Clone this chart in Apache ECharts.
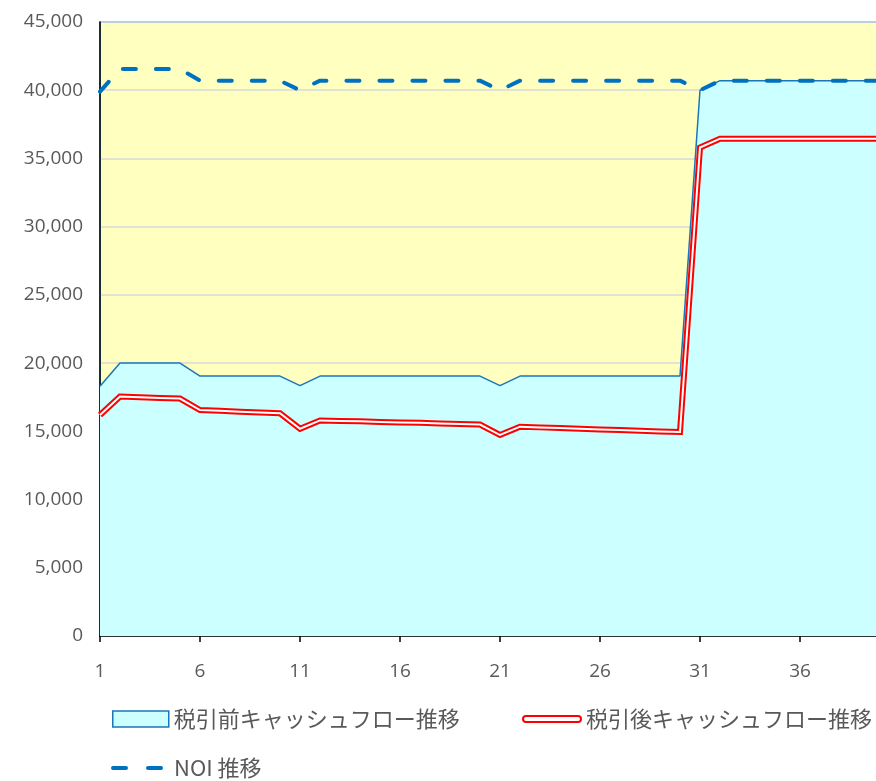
<!DOCTYPE html>
<html>
<head>
<meta charset="utf-8">
<script src="https://cdn.jsdelivr.net/npm/echarts@6/dist/echarts.min.js"></script>
<style>
  html, body { margin: 0; padding: 0; background: #fff; }
  #chart { width: 876px; height: 781px; }
</style>
</head>
<body>
<div id="chart"></div>
<script>
// Period numbers along the x axis
const periods = ['1','2','3','4','5','6','7','8','9','10',
  '11','12','13','14','15','16','17','18','19','20',
  '21','22','23','24','25','26','27','28','29','30',
  '31','32','33','34','35','36','37','38','39','40'];

// 税引前キャッシュフロー
const preTaxCF = [18300, 20000, 20000, 20000, 20000, 19050, 19050, 19050, 19050, 19050,
  18350, 19050, 19050, 19050, 19050, 19050, 19050, 19050, 19050, 19050,
  18350, 19050, 19050, 19050, 19050, 19050, 19050, 19050, 19050, 19050,
  40000, 40700, 40700, 40700, 40700, 40700, 40700, 40700, 40700, 40700];

// 税引後キャッシュフロー
const afterTaxCF = [16200, 17550, 17500, 17450, 17400, 16560, 16500, 16440, 16380, 16320,
  15190, 15800, 15760, 15730, 15690, 15650, 15620, 15580, 15540, 15500,
  14730, 15340, 15290, 15240, 15190, 15140, 15090, 15040, 14990, 14950,
  35800, 36450, 36450, 36450, 36450, 36450, 36450, 36450, 36450, 36450];

// NOI
const noi = [39900, 41550, 41550, 41550, 41550, 40700, 40700, 40700, 40700, 40700,
  40000, 40700, 40700, 40700, 40700, 40700, 40700, 40700, 40700, 40700,
  40000, 40700, 40700, 40700, 40700, 40700, 40700, 40700, 40700, 40700,
  40000, 40700, 40700, 40700, 40700, 40700, 40700, 40700, 40700, 40700];

const NAME_PRE = '税引前キャッシュフロー推移';
const NAME_POST = '税引後キャッシュフロー推移';
const NAME_NOI = 'NOI 推移';

const labelColor = '#595959';
const numFont = '"Open Sans", "Noto Sans", sans-serif';
const cjkFont = '"Noto Sans CJK JP", sans-serif';

const chart = echarts.init(document.getElementById('chart'), null, { renderer: 'canvas' });

const legendText = { color: labelColor, fontSize: 22, fontFamily: cjkFont };

chart.setOption({
  animation: false,
  backgroundColor: '#ffffff',
  grid: {
    // the plot runs slightly past the right edge of the canvas
    left: 100, top: 22, width: 780, height: 614,
    outerBoundsMode: 'none',
    containLabel: false,
    show: true,
    backgroundColor: '#FFFFC0',
    borderColor: '#2E9BD6',
    borderWidth: 1.5
  },
  legend: [
    {
      left: 107, top: 703, itemWidth: 56, itemHeight: 16,
      textStyle: legendText,
      data: [{ name: NAME_PRE, icon: 'rect',
        itemStyle: { color: '#CCFFFF', borderColor: '#1B75BB', borderWidth: 1.5 } }]
    },
    {
      left: 517, top: 703, itemWidth: 58, itemHeight: 16,
      textStyle: legendText,
      data: [{ name: NAME_POST,
        icon: 'path://M3,0 H55 A3,3 0 0 1 55,6 H3 A3,3 0 0 1 3,0 Z',
        itemStyle: { color: '#ffffff', borderColor: '#FF0000', borderWidth: 2 } }]
    },
    {
      left: 106, top: 752, itemWidth: 52, itemHeight: 16,
      textStyle: Object.assign({}, legendText, { padding: [0, 0, 0, 6] }),
      data: [{ name: NAME_NOI,
        icon: 'path://M2,0 H15 A2,2 0 0 1 15,4 H2 A2,2 0 0 1 2,0 Z M37,0 H50 A2,2 0 0 1 50,4 H37 A2,2 0 0 1 37,0 Z',
        itemStyle: { color: '#0070C0', borderWidth: 0 } }]
    }
  ],
  xAxis: {
    type: 'category',
    data: periods,
    boundaryGap: false,
    axisLine: { lineStyle: { color: '#000000', width: 1.5 } },
    axisTick: { show: true, interval: 4, length: 6, lineStyle: { color: '#000000', width: 1.5 } },
    axisLabel: { interval: 4, margin: 26, color: labelColor, fontSize: 19, fontFamily: numFont },
    splitLine: { show: false }
  },
  yAxis: {
    type: 'value',
    min: 0, max: 45000, interval: 5000,
    axisLine: { show: true, lineStyle: { color: '#000000', width: 1.5 } },
    axisTick: { show: false },
    axisLabel: {
      margin: 17, color: labelColor, fontSize: 19, fontFamily: numFont,
      formatter: v => v.toLocaleString('en-US')
    },
    splitLine: { show: true, lineStyle: { color: '#D9D9D9', width: 1.5 } }
  },
  series: [
    {
      name: NAME_PRE, type: 'line', data: preTaxCF,
      symbol: 'none', z: 2,
      itemStyle: { color: '#1B75BB' },
      lineStyle: { color: '#1B75BB', width: 1.5 },
      areaStyle: { color: '#CCFFFF', opacity: 1 }
    },
    {
      name: NAME_POST, type: 'line', data: afterTaxCF,
      symbol: 'none', z: 3,
      itemStyle: { color: '#FF0000' },
      lineStyle: { color: '#FF0000', width: 6, join: 'miter' }
    },
    {
      name: NAME_POST, type: 'line', data: afterTaxCF,
      symbol: 'none', z: 4,
      itemStyle: { color: '#FF0000' },
      lineStyle: { color: '#FFFFFF', width: 2, join: 'miter' }
    },
    {
      name: NAME_NOI, type: 'line', data: noi,
      symbol: 'none', z: 5,
      itemStyle: { color: '#0070C0' },
      lineStyle: { color: '#0070C0', width: 4, type: [13, 20], cap: 'round' }
    }
  ]
});
</script>
</body>
</html>
